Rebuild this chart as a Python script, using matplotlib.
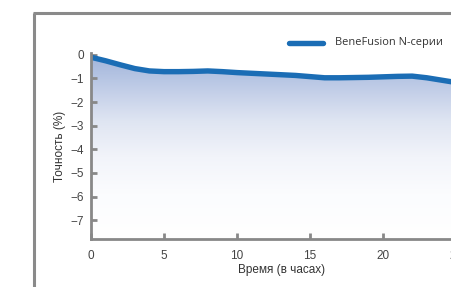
import numpy as np
import matplotlib
matplotlib.use("Agg")
import matplotlib.pyplot as plt
from matplotlib.colors import LinearSegmentedColormap
from matplotlib.lines import Line2D

hours = [0, 1, 2, 3, 4, 5, 6, 7, 8, 9, 10, 11, 12, 13, 14, 15, 16, 17, 18, 19, 20, 21, 22, 23, 24, 25]
accuracy = [-0.10, -0.25, -0.42, -0.58, -0.68, -0.71, -0.71, -0.70, -0.68, -0.71, -0.75, -0.78,
            -0.81, -0.84, -0.87, -0.92, -0.97, -0.97, -0.96, -0.95, -0.93, -0.91, -0.90, -0.97,
            -1.07, -1.17]
series_name = "BeneFusion N-серии"
x_ticks = [0, 5, 10, 15, 20, 25]
y_ticks = [0, -1, -2, -3, -4, -5, -6, -7]
x_label = "Время (в часах)"
y_label = "Точность (%)"

W, H = 452, 287
fig = plt.figure(figsize=(W / 100, H / 100), dpi=100)
fig.patch.set_facecolor("white")

# outer frame (cropped)
frame_col = "#8a8a8a"
fig.add_artist(Line2D([34 / W, 34 / W], [0, 1 - 13 / H], transform=fig.transFigure,
                      color=frame_col, lw=2.2, solid_capstyle="butt"))
fig.add_artist(Line2D([33 / W, 1.0], [1 - 13 / H, 1 - 13 / H], transform=fig.transFigure,
                      color=frame_col, lw=2.2, solid_capstyle="butt"))

left, right = 91, 456
top, bottom = 53, 239
ax = fig.add_axes([left / W, 1 - bottom / H, (right - left) / W, (bottom - top) / H])
ax.set_xlim(0, 25)
ax.set_ylim(-7.8, 0.08)

# gradient fill under line
cmap = LinearSegmentedColormap.from_list(
    "grad", [(0.0, "#a2b6db"), (0.15, "#bdcae6"), (0.35, "#dfe5f2"), (0.55, "#f2f4fa"),
             (0.75, "#fbfcfe"), (1.0, "#ffffff")])
grad = np.linspace(0, 1, 256).reshape(-1, 1)
im = ax.imshow(grad, cmap=cmap, aspect="auto", extent=[0, 25, -7.8, -0.1],
               origin="upper", zorder=1)
poly = ax.fill_between(hours, accuracy, -7.8, facecolor="none", edgecolor="none")
path = poly.get_paths()[0]
im.set_clip_path(path, ax.transData)

ax.plot(hours, accuracy, color="#1b6db5", lw=3.9, solid_capstyle="round", zorder=3,
        label=series_name)

for s in ["top", "right"]:
    ax.spines[s].set_visible(False)
for s in ["left", "bottom"]:
    ax.spines[s].set_color("#888888")
    ax.spines[s].set_linewidth(2.0)
    ax.spines[s].set_zorder(4)

tick_font = dict(family=["Liberation Sans", "DejaVu Sans"], size=8.5)
ax.set_xticks(x_ticks)
ax.set_yticks(y_ticks)
ax.set_xticklabels([str(v) for v in x_ticks], **tick_font, color="#444444")
ax.set_yticklabels(["0" if v == 0 else "\u2212" + str(-v) for v in y_ticks], **tick_font,
                   color="#444444")
ax.tick_params(axis="both", direction="in", length=4.5, width=2.0, color="#888888")
ax.tick_params(axis="x", pad=8)
ax.tick_params(axis="y", pad=5)

ax.set_xlabel(x_label, family=["Liberation Sans", "DejaVu Sans"], size=8.5, color="#333333")
ax.xaxis.set_label_coords((282 - left) / (right - left), -(270 - bottom) / (bottom - top))
ax.set_ylabel(y_label, family=["Liberation Sans", "DejaVu Sans"], size=8.5, color="#333333")
ax.yaxis.set_label_coords(-(91 - 60) / (right - left), 0.5)
ax.xaxis.label.set_va("center")
ax.yaxis.label.set_va("center")

# legend
fig.add_artist(Line2D([289 / W, 323 / W], [1 - 43 / H, 1 - 43 / H], transform=fig.transFigure,
                      color="#1b6db5", lw=3.9, solid_capstyle="round"))
fig.text(335 / W, 1 - 43 / H, series_name, family=["Open Sans", "DejaVu Sans"], size=7.9,
         color="#333333", va="center", ha="left")

fig.savefig("out.png", dpi=100, facecolor="white")
